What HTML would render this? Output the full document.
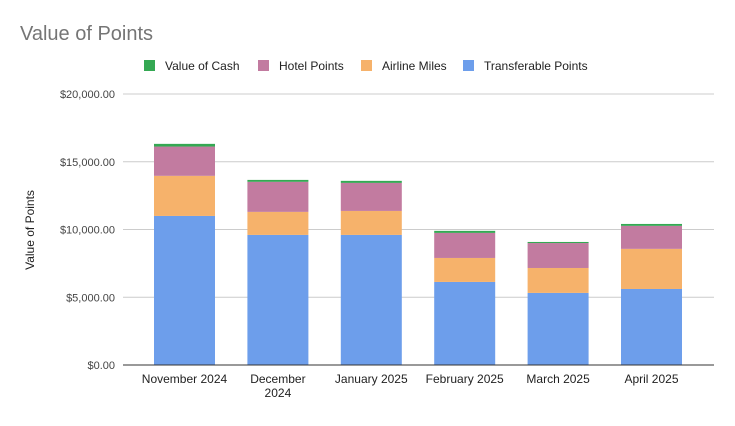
<!DOCTYPE html>
<html><head><meta charset="utf-8"><style>
body{margin:0;background:#fff;}
svg text{font-family:"Liberation Sans",Arial,sans-serif;}
</style></head><body>
<svg id="chart" width="735" height="421" xmlns="http://www.w3.org/2000/svg">
<rect width="735" height="421" fill="#fff"/>
<text x="20" y="40" font-size="20" fill="#757575">Value of Points</text>
<g id="legend"></g>
<g id="grid"></g>
<g id="bars"></g>
<g id="xlabels"></g>
<text transform="translate(34,230) rotate(-90)" text-anchor="middle" font-size="12" fill="#222">Value of Points</text>
</svg>
<script>
const categories = [["November 2024"],["December","2024"],["January 2025"],["February 2025"],["March 2025"],["April 2025"]];
const transferable = [11000, 9600, 9600, 6130, 5320, 5610];
const airline = [2960, 1700, 1770, 1770, 1840, 2960];
const hotel = [2160, 2220, 2070, 1850, 1840, 1700];
const cash = [200, 140, 150, 150, 80, 140];
const yTicks = [0, 5000, 10000, 15000, 20000];
const yTickLabels = ["$0.00","$5,000.00","$10,000.00","$15,000.00","$20,000.00"];
const seriesNames = ["Value of Cash","Hotel Points","Airline Miles","Transferable Points"];

const NS="http://www.w3.org/2000/svg";
const colors={"Transferable Points":"#6d9eeb","Airline Miles":"#f6b26b","Hotel Points":"#c27ba0","Value of Cash":"#34a853"};
const y0=365, yTop=94, yMax=20000;
function y(v){return y0-(v/yMax)*(y0-yTop);}
const bandStart=137.8, bandW=93.4, barW=61;
function xc(i){return bandStart+bandW*(i+0.5);}
function mk(tag,attrs,parent){const e=document.createElementNS(NS,tag);for(const k in attrs)e.setAttribute(k,attrs[k]);parent.appendChild(e);return e;}

const grid=document.getElementById('grid');
yTicks.forEach((t,i)=>{
  const l=mk('line',{x1:123,x2:714,y1:y(t),y2:y(t),stroke:i===0?'#333':'#ccc','stroke-width':1},grid);
  
  
  const tx=mk('text',{x:115,y:y(t)+4,'text-anchor':'end','font-size':11,fill:'#444'},grid);
  tx.textContent=yTickLabels[i];
  
  
});

const bars=document.getElementById('bars');
const stack=[["Transferable Points",transferable],["Airline Miles",airline],["Hotel Points",hotel],["Value of Cash",cash]];
categories.forEach((c,i)=>{
  let base=0;
  stack.forEach(([name,arr])=>{
    const v=arr[i];
    const r=mk('rect',{x:xc(i)-barW/2,y:y(base+v),width:barW,height:y(base)-y(base+v),fill:colors[name]},bars);
    
    
    base+=v;
  });
});
mk('line',{x1:123,x2:714,y1:y0,y2:y0,stroke:'#333','stroke-width':1},bars);

const xl=document.getElementById('xlabels');
categories.forEach((c,i)=>{
  c.forEach((line,j)=>{
    const t=mk('text',{x:xc(i),y:383+j*14,'text-anchor':'middle','font-size':12,fill:'#222'},xl);
    t.textContent=line;
    
    
  });
});

const lg=document.getElementById('legend');
const lx=[144,258,361,463];
seriesNames.forEach((n,i)=>{
  const g=mk('g',{},lg);
  
  
  mk('rect',{x:lx[i],y:60,width:11,height:11,fill:colors[n]},g);
  const t=mk('text',{x:lx[i]+21,y:70,'font-size':12,fill:'#222'},g);
  t.textContent=n;
});
</script>
</body></html>
